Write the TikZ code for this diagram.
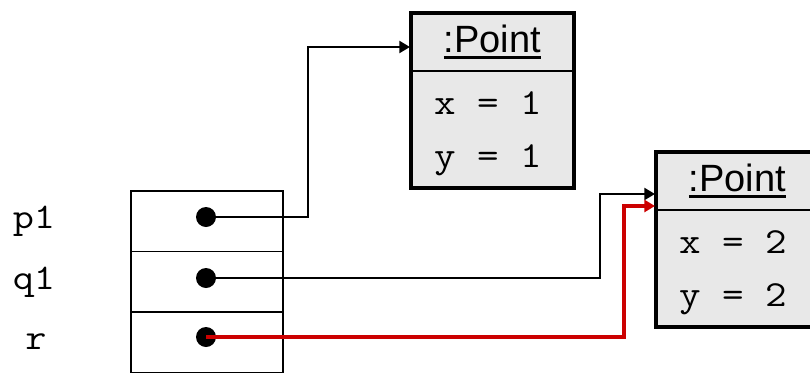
\documentclass[tikz,border=0pt]{standalone}
\usepackage{fontspec}
\setmainfont{Liberation Sans}
\setmonofont{Latin Modern Mono}[FakeStretch=1.14]
\usepackage{tikz}
\usetikzlibrary{arrows.meta,positioning}
\definecolor{objgray}{RGB}{232,232,232}
\definecolor{refred}{RGB}{204,0,0}
\newcommand{\objname}[1]{\setbox0\hbox{#1}\rlap{\rule[-4.5pt]{\wd0}{2.2pt}}\box0}

\begin{document}
\begin{tikzpicture}[x=0.75pt,y=-0.75pt]
\tikzstyle{slot}=[draw, line width=1.4pt, shape=rectangle, minimum height=45.4pt, minimum width=114pt, inner sep=0pt, outer sep=0pt]
\tikzstyle{header}=[draw, fill=objgray, line width=1.4pt, shape=rectangle, minimum height=43.5pt, minimum width=122pt, inner sep=0pt, outer sep=0pt, font=\fontsize{28.5}{28.5}\selectfont]
\tikzstyle{body}=[draw, fill=objgray, line width=1.4pt, shape=rectangle, minimum height=88pt, minimum width=122pt, inner sep=0pt, outer sep=0pt]
\tikzstyle{field}=[inner sep=0pt, font=\ttfamily\fontsize{27.5}{27.5}\selectfont]
\tikzstyle{var}=[inner sep=0pt, font=\ttfamily\fontsize{27}{27}\selectfont]
\tikzstyle{dot}=[fill, shape=circle, minimum size=15pt, inner sep=0pt]
\tikzstyle{ref}=[line width=1.6pt, -{Triangle[length=8pt,width=9pt]}]
\tikzstyle{border}=[line width=3pt]
\useasboundingbox (0,0) rectangle (810,372);
\clip (0,0) rectangle (810,372);

% variables
\node[slot, anchor=north west] (0) at (131,191) {};
\node[slot] (1) [below=0pt of 0] {};
\node[slot] (2) [below=0pt of 1] {};
\node[var] (3) at (34,221) {p1};
\node[var] (4) at (34,282) {q1};
\node[var] (5) at (36,342) {r};

% objects
\node[header, anchor=north west] (6) at (411,13) {\objname{:Point}};
\node[body] (7) [below=0pt of 6] {};
\draw[border] (6.north west) rectangle (7.south east);
\node[field, anchor=west] (8) at (434,103) {x = 1};
\node[field, anchor=west] (9) at (434,160) {y = 1};

\node[header, anchor=north west] (10) at (656,152) {\objname{:Point}};
\node[body] (11) [below=0pt of 10] {};
\draw[border] (10.north west) rectangle (11.south east);
\node[field, anchor=west] (12) at (679,242) {x = 2};
\node[field, anchor=west] (13) at (679,299) {y = 2};

% references
\node[dot] (14) at (206,217) {};
\node[dot] (15) at (206,278) {};
\node[dot] (16) at (206,337) {};
\coordinate (17) at (410,47);
\coordinate (18) at (655,194);
\coordinate (19) at (655,206);

\draw[ref] (14.center) -- ++(102,0) |- (17);
\draw[ref] (15.center) -- ++(394,0) |- (18);
\draw[ref, refred, line width=2.4pt] (16.center) -- ++(418,0) |- (19);

\end{tikzpicture}
\end{document}
